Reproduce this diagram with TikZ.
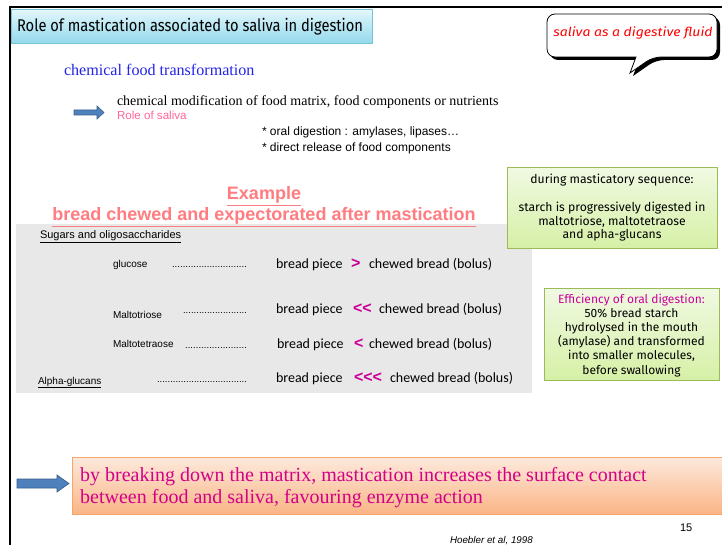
\documentclass[tikz,border=0pt]{standalone}
\usepackage{fontspec}
\setmainfont{Liberation Serif}
\newfontfamily\arialf{Liberation Sans}
\newfontfamily\calib{Carlito}
\newfontfamily\comic{Fira Sans}
\newcommand\fsz[2]{\fontsize{#1}{#2}\selectfont}
\newcommand\leaderdots[1]{\hbox to #1{\xleaders\hbox to 2.6pt{\hss.\hss}\hfill}}
\definecolor{titletop}{HTML}{E2F6FB}
\definecolor{titlebot}{HTML}{93D9EC}
\definecolor{titleedge}{HTML}{78C3D8}
\definecolor{chemblue}{HTML}{2323E6}
\definecolor{salivapink}{HTML}{FF6699}
\definecolor{salmon}{HTML}{FF7C80}
\definecolor{mag}{HTML}{CC0099}
\definecolor{greytop}{HTML}{E8E8E8}
\definecolor{greentop}{HTML}{F0F9E2}
\definecolor{greenbot}{HTML}{D6F0A6}
\definecolor{greenedge}{HTML}{9BBB59}
\definecolor{orangetop}{HTML}{FDE9DC}
\definecolor{orangebot}{HTML}{FAB485}
\definecolor{orangeedge}{HTML}{F6A66C}
\definecolor{orangetext}{HTML}{D40087}
\definecolor{arrowfill}{HTML}{4F81BD}
\definecolor{arrowedge}{HTML}{385D8A}
\tikzset{
  txt/.style={inner sep=0pt, outer sep=0pt, anchor=base west},
  greenbox/.style={draw=greenedge, line width=0.8pt, top color=greentop, bottom color=greenbot, anchor=north west, inner sep=0pt},
  blockarrow/.style={fill=arrowfill, draw=arrowedge, line width=0.6pt},
  row/.style={txt, font=\calib\fsz{14}{16}},
  cmp/.style={txt, font=\arialf\bfseries\fsz{16}{17}, text=mag},
  sugar/.style={txt, font=\arialf\fsz{10}{12}},
  dotsrow/.style={txt, font=\arialf\fsz{9.5}{10}}
}
\begin{document}
\begin{tikzpicture}[x=1pt,y=-1pt]
\useasboundingbox (0,0) rectangle (722,545);
\fill[white] (0,0) rectangle (722,545);
% slide frame
\draw[line width=2pt] (10,545) -- (10,7) -- (722,7);
% title
\node[draw=titleedge, line width=0.8pt, top color=titletop, bottom color=titlebot,
      minimum width=361pt, minimum height=34pt, inner sep=0pt, anchor=north west]
      (title) at (11,9) {};
\node[txt, font=\comic\fsz{17}{20}] (titletext) at (17,32)
      {\scalebox{0.865}[1]{Role of mastication associated to saliva in digestion}};
% callout bubble
\path[fill=black, shift={(3,3)}] (630,73) -- (636,57) [rounded corners=8pt] -- (547,57) -- (547,14) -- (717,14) -- (717,57) -- (653,57) [sharp corners] -- cycle;
\path[fill=white, draw=black, line width=0.8pt] (630,73) -- (636,57) [rounded corners=8pt] -- (547,57) -- (547,14) -- (717,14) -- (717,57) -- (653,57) [sharp corners] -- cycle;
\node[inner sep=0pt, font=\comic\itshape\fsz{12.5}{14}, text=red] (callout) at (633,33)
      {\scalebox{1.12}[1]{saliva as a digestive fluid}};
% chemical transformation
\node[txt, font=\fsz{16.1}{18}, text=chemblue] (chem) at (64,76) {chemical food transformation};
\fill[blockarrow] (74,110) -- (97,110) -- (97,106) -- (104,112.5) -- (97,119) -- (97,115) -- (74,115) -- cycle;
\node[txt, font=\fsz{14}{16}] (modif) at (117,106) {chemical modification of food matrix, food components or nutrients};
\node[txt, font=\arialf\fsz{11.6}{13}, text=salivapink] (rolesaliva) at (117,120) {Role of saliva};
\node[txt, font=\arialf\fsz{12}{14}] (oral) at (262,136) {* oral digestion : amylases, lipases\ldots};
\node[txt, font=\arialf\fsz{12}{14}] (direct) at (262,152) {* direct release of food components};
% grey panel
\fill[greytop] (16,224) rectangle (532,393);
% example heading
\node[inner sep=0pt, anchor=base, font=\arialf\bfseries\fsz{18}{20}, text=salmon] (example) at (264,200) {\underline{Example}};
\node[inner sep=0pt, anchor=base, font=\arialf\bfseries\fsz{18}{20}, text=salmon] (bread) at (264,221) {\underline{bread chewed and expectorated after mastication}};
\node[txt, font=\arialf\fsz{11}{12}] (sugars) at (40,239) {\underline{Sugars and oligosaccharides}};
% rows
\node[sugar] (glu) at (113,267) {glucose};
\node[dotsrow] (glud) at (172,267) {\leaderdots{75pt}};
\node[row] (glub) at (276,268) {bread piece};
\node[cmp] (gluc) at (351,268) {>};
\node[row] (glue) at (369,268) {chewed bread (bolus)};

\node[sugar] (mt) at (113,318) {Maltotriose};
\node[dotsrow] (mtd) at (183,313) {\leaderdots{64pt}};
\node[row] (mtb) at (276,313) {bread piece};
\node[cmp] (mtc) at (353,313) {<<};
\node[row] (mte) at (379,313) {chewed bread (bolus)};

\node[sugar] (mtt) at (113,347) {Maltotetraose};
\node[dotsrow] (mttd) at (185,348) {\leaderdots{62pt}};
\node[row] (mttb) at (277,348) {bread piece};
\node[cmp] (mttc) at (354,348) {<};
\node[row] (mtte) at (369,348) {chewed bread (bolus)};

\node[sugar] (ag) at (38,384) {\underline{Alpha-glucans}};
\node[dotsrow] (agd) at (157,382) {\leaderdots{90pt}};
\node[row] (agb) at (276,382) {bread piece};
\node[cmp] (agc) at (354,382) {<<<};
\node[row] (age) at (390,382) {chewed bread (bolus)};
% green boxes
\node[greenbox, minimum width=210pt, minimum height=81pt] (green1) at (507,167) {};
\node[anchor=base, inner sep=0pt, font=\comic\fsz{12.2}{13.5}, align=center] (g1a) at (612,184) {during masticatory sequence:};
\node[anchor=base, inner sep=0pt, font=\comic\fsz{12.2}{13.5}, align=center] (g1b) at (612,239)
   {starch is progressively digested in\\maltotriose, maltotetraose\\and apha-glucans};
\node[greenbox, minimum width=175pt, minimum height=92pt] (green2) at (544,288) {};
\node[anchor=base, inner sep=0pt, font=\comic\fsz{12}{14.2}, align=center] (g2) at (631.5,374)
   {\textcolor{mag}{Efficiency of oral digestion:}\\50\% bread starch\\hydrolysed in the mouth\\(amylase) and transformed\\into smaller molecules,\\before swallowing};
% bottom conclusion
\node[draw=orangeedge, line width=0.8pt, top color=orangetop, bottom color=orangebot,
      minimum width=650pt, minimum height=57pt, inner sep=0pt, anchor=north west] (concl) at (72,457) {};
\node[anchor=base west, inner sep=0pt, font=\fsz{20}{22}, text=orangetext, align=left] (concltext) at (80,503)
   {by breaking down the matrix, mastication increases the surface contact\\between food and saliva, favouring enzyme action};
\fill[blockarrow] (17,479) -- (57,479) -- (57,475) -- (69,483.5) -- (57,492) -- (57,488) -- (17,488) -- cycle;
% footer
\node[txt, font=\arialf\fsz{11}{13}] (pagenum) at (680,531) {15};
\node[txt, font=\arialf\itshape\fsz{9.8}{11}] (ref) at (450,543) {Hoebler et al, 1998};
\end{tikzpicture}
\end{document}
